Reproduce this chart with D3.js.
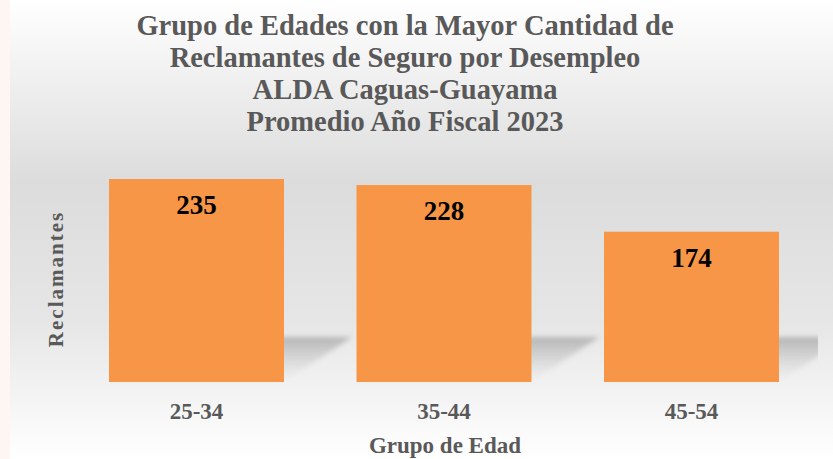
<!DOCTYPE html>
<html>
<head>
<meta charset="utf-8">
<script src="https://cdn.jsdelivr.net/npm/d3@7"></script>
<style>
  body { margin: 0; background: #fff; }
  svg { display: block; }
</style>
</head>
<body>
<div id="grafica"></div>
<script>
// datos
const categorias = ["25-34", "35-44", "45-54"];
const reclamantes = [235, 228, 174];
const titulo = [
  "Grupo de Edades con la Mayor Cantidad de",
  "Reclamantes de Seguro por Desempleo",
  "ALDA Caguas-Guayama",
  "Promedio Año Fiscal 2023"
];

const width = 833, height = 459;

const svg = d3.select("#grafica")
  .append("svg")
  .attr("width", width)
  .attr("height", height)
  .style("font-family", "'Liberation Serif', 'Times New Roman', serif");

const defs = svg.append("defs");

// fondo degradado
const fondo = defs.append("linearGradient")
  .attr("id", "fondo").attr("x1", 0).attr("y1", 0).attr("x2", 0).attr("y2", 1);
fondo.append("stop").attr("offset", "0%").attr("stop-color", "#ffffff");
fondo.append("stop").attr("offset", "40%").attr("stop-color", "#dcdcdc");
fondo.append("stop").attr("offset", "70%").attr("stop-color", "#e6e6e6");
fondo.append("stop").attr("offset", "100%").attr("stop-color", "#ffffff");

const sombra = defs.append("linearGradient")
  .attr("id", "sombra").attr("x1", 0).attr("y1", 0).attr("x2", 0).attr("y2", 1);
sombra.append("stop").attr("offset", "0%").attr("stop-color", "#8a8a8a").attr("stop-opacity", 0.55);
sombra.append("stop").attr("offset", "100%").attr("stop-color", "#bdbdbd").attr("stop-opacity", 0);

defs.append("filter").attr("id", "difuso")
  .attr("x", "-20%").attr("y", "-30%").attr("width", "140%").attr("height", "160%")
  .append("feGaussianBlur").attr("stdDeviation", 2.5);

defs.append("clipPath").attr("id", "area")
  .append("rect").attr("x", 10).attr("y", 150).attr("width", 808).attr("height", 250);

svg.append("rect")
  .attr("x", 10).attr("y", 0)
  .attr("width", width - 10).attr("height", height)
  .attr("fill", "url(#fondo)");

svg.append("rect")
  .attr("x", 0).attr("y", 0).attr("width", 10).attr("height", height)
  .attr("fill", "#fdf6f3");

// titulo
svg.append("g")
  .selectAll("text")
  .data(titulo)
  .join("text")
  .attr("x", 405)
  .attr("y", (d, i) => 35 + i * 32)
  .attr("text-anchor", "middle")
  .attr("font-size", 28.5)
  .attr("font-weight", "bold")
  .attr("fill", "#595959")
  .text(d => d);

const x = d3.scaleBand()
  .domain(categorias)
  .range([59.5, 828.5])
  .paddingInner(0.293)
  .paddingOuter(0.2);

const y = d3.scaleLinear()
  .domain([0, 235])
  .range([382, 179]);

const base = y(0);

// sombras en perspectiva
svg.append("g")
  .attr("clip-path", "url(#area)")
  .selectAll("path")
  .data(reclamantes)
  .join("path")
  .attr("filter", "url(#difuso)")
  .attr("fill", "url(#sombra)")
  .attr("d", (d, i) => {
    const x0 = x(categorias[i]), x1 = x0 + x.bandwidth();
    const h = 45, dx = 68;
    return `M${x0},${base} L${x1},${base} L${x1 + dx},${base - h} L${x0 + dx},${base - h} Z`;
  });

// barras
svg.append("g")
  .selectAll("rect")
  .data(reclamantes)
  .join("rect")
  .attr("x", (d, i) => x(categorias[i]))
  .attr("y", d => y(d))
  .attr("width", x.bandwidth())
  .attr("height", d => base - y(d))
  .attr("fill", "#f79646");

// etiquetas de valores
svg.append("g")
  .selectAll("text")
  .data(reclamantes)
  .join("text")
  .attr("x", (d, i) => x(categorias[i]) + x.bandwidth() / 2)
  .attr("y", d => y(d) + 35)
  .attr("text-anchor", "middle")
  .attr("font-size", 27)
  .attr("font-weight", "bold")
  .attr("fill", "#000")
  .text(d => d);

// eje x
const ejeX = svg.append("g")
  .attr("transform", `translate(0,${base})`)
  .call(d3.axisBottom(x).tickSize(0).tickPadding(21));
ejeX.select(".domain").remove();
ejeX.selectAll("text")
  .attr("font-family", "'Liberation Serif', 'Times New Roman', serif")
  .attr("font-size", 23)
  .attr("font-weight", "bold")
  .attr("fill", "#595959");

svg.append("text")
  .attr("x", 445)
  .attr("y", 453)
  .attr("text-anchor", "middle")
  .attr("font-size", 23)
  .attr("font-weight", "bold")
  .attr("fill", "#595959")
  .text("Grupo de Edad");

svg.append("text")
  .attr("transform", "translate(63,279) rotate(-90)")
  .attr("text-anchor", "middle")
  .attr("font-size", 21)
  .attr("font-weight", "bold")
  .attr("letter-spacing", 2)
  .attr("fill", "#595959")
  .text("Reclamantes");
</script>
</body>
</html>
